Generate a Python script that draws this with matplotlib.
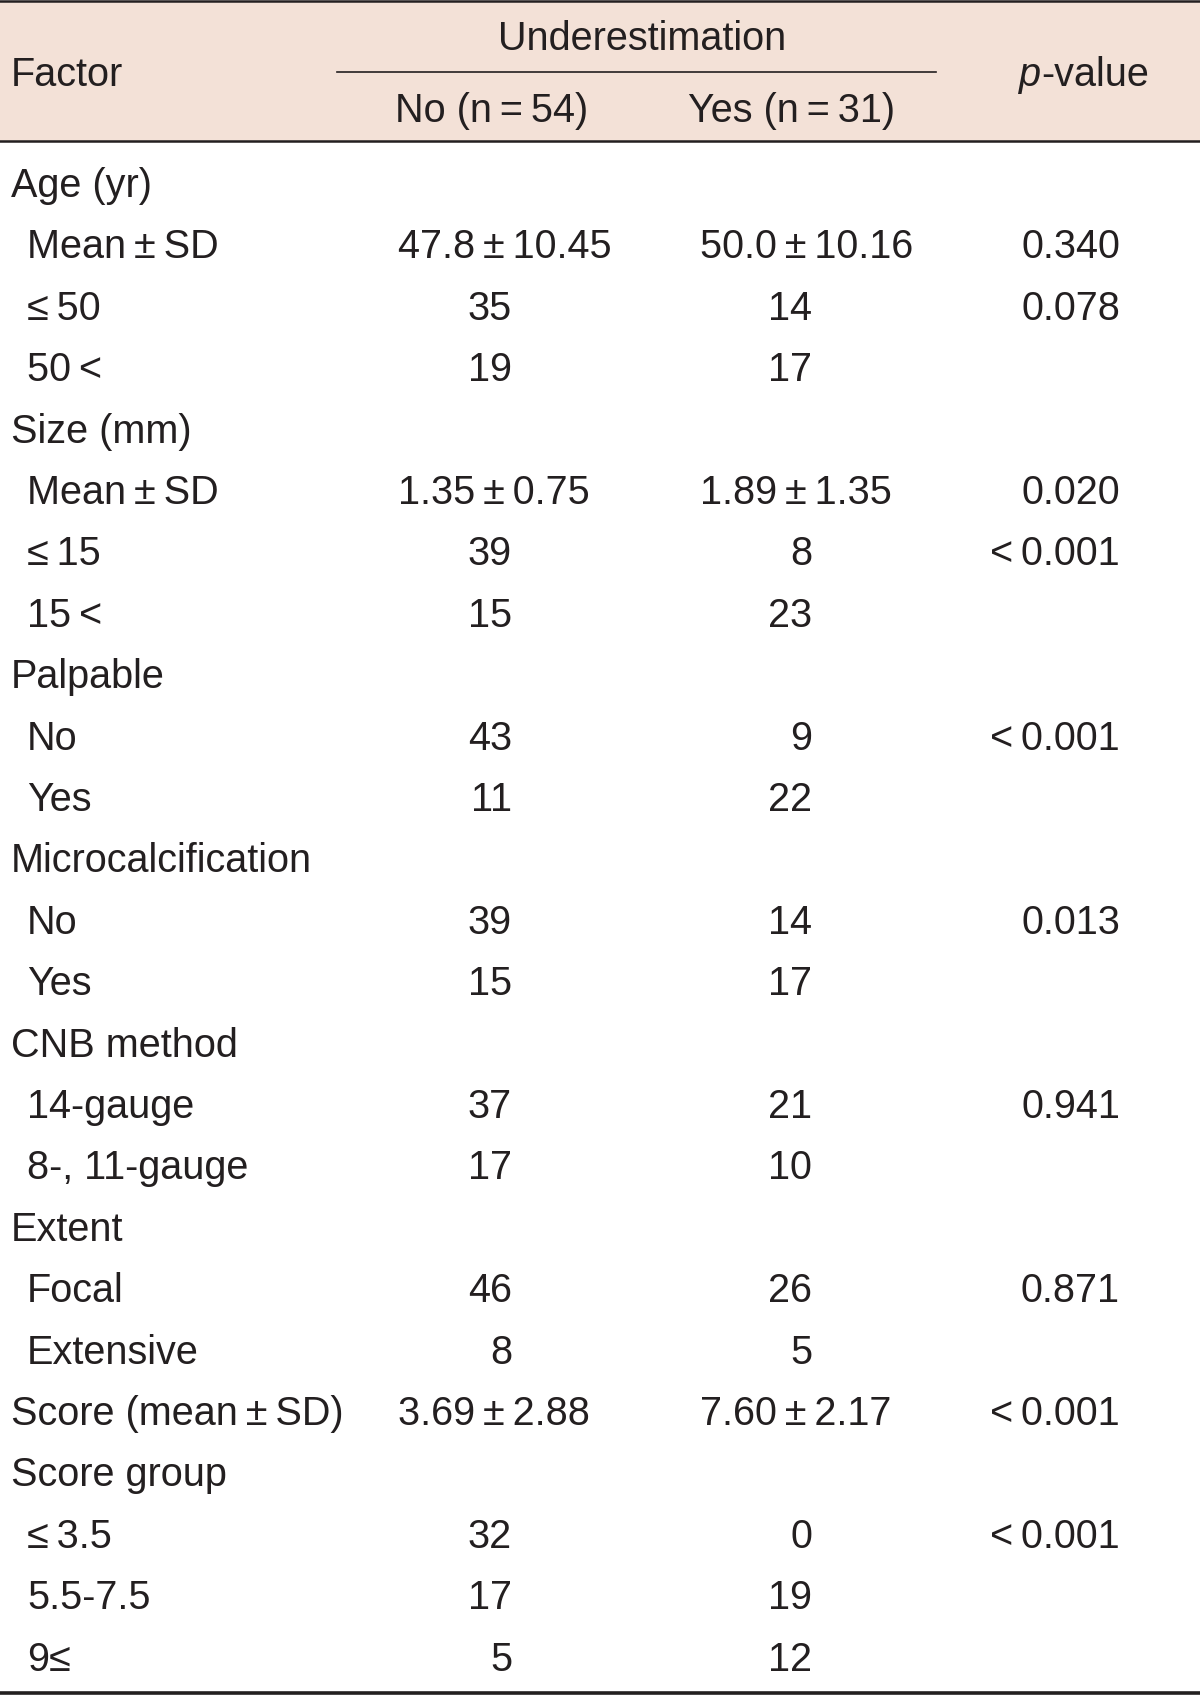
import matplotlib
matplotlib.use("Agg")
import matplotlib.pyplot as plt
from matplotlib import font_manager

# ---------------------------------------------------------------------------
# Table content
# ---------------------------------------------------------------------------
HEADER_GROUP = "Underestimation"
HEADER_NO = "No (n\u2009=\u200954)"
HEADER_YES = "Yes (n\u2009=\u200931)"

row_labels = [
    "Age (yr)", "Mean\u2009\u00b1\u2009SD", "\u2264\u200950", "50\u2009<",
    "Size (mm)", "Mean\u2009\u00b1\u2009SD", "\u2264\u200915", "15\u2009<",
    "Palpable", "No", "Yes",
    "Microcalcification", "No", "Yes",
    "CNB method", "14-gauge", "8-, 11-gauge",
    "Extent", "Focal", "Extensive",
    "Score (mean\u2009\u00b1\u2009SD)",
    "Score group", "\u2264\u20093.5", "5.5-7.5", "9\u2264",
]
is_heading = [
    True, False, False, False,
    True, False, False, False,
    True, False, False,
    True, False, False,
    True, False, False,
    True, False, False,
    True,
    True, False, False, False,
]
no_vals = [
    "", "47.8\u2009\u00b1\u200910.45", "35", "19",
    "", "1.35\u2009\u00b1\u20090.75", "39", "15",
    "", "43", "11",
    "", "39", "15",
    "", "37", "17",
    "", "46", "8",
    "3.69\u2009\u00b1\u20092.88",
    "", "32", "17", "5",
]
yes_vals = [
    "", "50.0\u2009\u00b1\u200910.16", "14", "17",
    "", "1.89\u2009\u00b1\u20091.35", "8", "23",
    "", "9", "22",
    "", "14", "17",
    "", "21", "10",
    "", "26", "5",
    "7.60\u2009\u00b1\u20092.17",
    "", "0", "19", "12",
]
p_vals = [
    "", "0.340", "0.078", "",
    "", "0.020", "<\u20090.001", "",
    "", "<\u20090.001", "",
    "", "0.013", "",
    "", "0.941", "",
    "", "0.871", "",
    "<\u20090.001",
    "", "<\u20090.001", "", "",
]

# ---------------------------------------------------------------------------
# Styling
# ---------------------------------------------------------------------------
names = {f.name for f in font_manager.fontManager.ttflist}
FONT = "Liberation Sans Narrow" if "Liberation Sans Narrow" in names else "Liberation Sans"
plt.rcParams["font.family"] = [FONT, "DejaVu Sans"]

INK = "#231f20"
HEADER_BG = "#f3e1d7"
FS = 28.5

W, H = 1200, 1699
fig = plt.figure(figsize=(W / 100, H / 100), dpi=100)
ax = fig.add_axes([0, 0, 1, 1])
ax.set_xlim(0, W)
ax.set_ylim(H, 0)
ax.axis("off")

# header band + rules
ax.axhspan(2, 142, color=HEADER_BG, zorder=0)
ax.plot([0, W], [2, 2], color=INK, lw=1.8)
ax.plot([0, W], [142, 142], color=INK, lw=1.8)
ax.plot([337, 936], [73, 73], color=INK, lw=1.2)
ax.plot([0, W], [1694, 1694], color=INK, lw=2.6)

txt = dict(color=INK, fontsize=FS, va="center")
ax.text(11, 75, "Factor", ha="left", **txt)
ax.text(642, 39, HEADER_GROUP, ha="center", **txt)
ax.text(492, 111, HEADER_NO, ha="center", **txt)
ax.text(792, 111, HEADER_YES, ha="center", **txt)
ax.text(1041, 75, "p", ha="right", style="italic", **txt)
ax.text(1041, 75, "-value", ha="left", **txt)

# body rows
y0, step = 186, 61.4
for i, label in enumerate(row_labels):
    y = y0 + i * step
    ax.text(11 if is_heading[i] else 27, y, label, ha="left", **txt)
    for val, left_x, right_x in ((no_vals[i], 398, 512), (yes_vals[i], 700, 812)):
        if not val:
            continue
        if "\u00b1" in val:
            ax.text(left_x, y, val, ha="left", **txt)
        else:
            ax.text(right_x, y, val, ha="right", **txt)
    if p_vals[i]:
        ax.text(1120, y, p_vals[i], ha="right", **txt)

fig.savefig("out.png", dpi=100)
